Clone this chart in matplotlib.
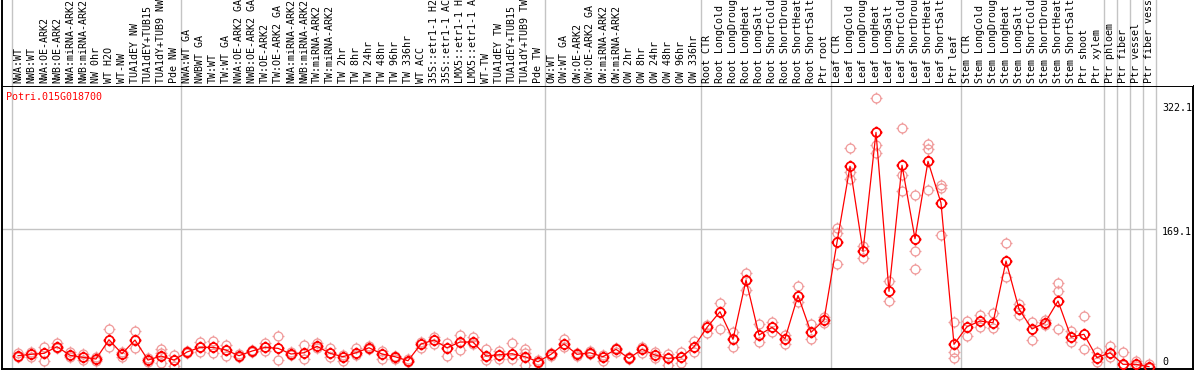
import matplotlib
matplotlib.use('Agg')
import matplotlib.pyplot as plt
import matplotlib.transforms as mtransforms
from matplotlib.path import Path
import numpy as np

# ---------------- data ----------------
gene = 'Potri.015G018700'

samples = [
    # group 1
    'NWA:WT', 'NWB:WT', 'NWA:OE-ARK2', 'NWB:OE-ARK2', 'NWA:miRNA-ARK2', 'NWB:miRNA-ARK2',
    'NW 0hr', 'WT H2O', 'WT-NW', 'TUA1dEY NW', 'TUA1dEY+TUB15', 'TUA1dY+TUB9 NW', 'Pde NW',
    # group 2
    'NWA:WT GA', 'NWBWT GA', 'TW:WT', 'TW:WT GA', 'NWA:OE-ARK2 GA', 'NWB:OE-ARK2 GA',
    'TW:OE-ARK2', 'TW:OE-ARK2 GA', 'NWA:miRNA-ARK2', 'NWB:miRNA-ARK2', 'TW:miRNA-ARK2',
    'TW:miRNA-ARK2', 'TW 2hr', 'TW 8hr', 'TW 24hr', 'TW 48hr', 'TW 96hr', 'TW 336hr',
    'WT ACC', '35S::etr1-1 H2', '35S::etr1-1 AC', 'LMX5::etr1-1 H', 'LMX5::etr1-1 A',
    'WT-TW', 'TUA1dEY TW', 'TUA1dEY+TUB15', 'TUA1dY+TUB9 TW', 'Pde TW',
    # group 3
    'OW:WT', 'OW:WT GA', 'OW:OE-ARK2', 'OW:OE-ARK2 GA', 'OW:miRNA-ARK2', 'OW:miRNA-ARK2',
    'OW 2hr', 'OW 8hr', 'OW 24hr', 'OW 48hr', 'OW 96hr', 'OW 336hr',
    # root
    'Root CTR', 'Root LongCold', 'Root LongDroug', 'Root LongHeat', 'Root LongSalt',
    'Root ShortCold', 'Root ShortDrou', 'Root ShortHeat', 'Root ShortSalt', 'Ptr root',
    # leaf
    'Leaf CTR', 'Leaf LongCold', 'Leaf LongDroug', 'Leaf LongHeat', 'Leaf LongSalt',
    'Leaf ShortCold', 'Leaf ShortDrou', 'Leaf ShortHeat', 'Leaf ShortSalt', 'Ptr leaf',
    # stem
    'Stem CTR', 'Stem LongCold', 'Stem LongDroug', 'Stem LongHeat', 'Stem LongSalt',
    'Stem ShortCold', 'Stem ShortDrou', 'Stem ShortHeat', 'Stem ShortSalt', 'Ptr shoot', 'Ptr xylem',
    # single tissues
    'Ptr phloem', 'Ptr fiber', 'Ptr vessel', 'Ptr fiber vess',
]
group_sizes = [13, 28, 12, 10, 10, 11, 1, 1, 1, 1]

means = [
    14.4, 16.1, 17.3, 25.4, 14.9, 12.4, 10.4, 33.9, 16.8, 33.5, 9.1, 14.0, 9.1,
    18.9, 24.6, 24.6, 21.3, 14.4, 20.1, 24.6, 23.4, 16.5, 18.0, 25.9, 17.3, 13.2, 18.0,
    24.1, 16.5, 13.2, 8.3, 28.7, 33.5, 24.1, 31.1, 31.1, 14.0, 15.6, 16.8, 13.2, 7.1,
    16.1, 28.7, 16.1, 18.0, 13.2, 22.2, 11.2, 22.2, 15.2, 11.2, 12.4, 25.4,
    49.0, 68.0, 34.4, 106.7, 39.6, 49.0, 35.1, 87.8, 42.9, 57.9,
    152.7, 245.4, 141.7, 286.8, 92.9, 246.6, 157.1, 251.5, 200.6, 28.3,
    49.8, 56.7, 54.6, 129.9, 71.3, 47.0, 54.6, 81.1, 37.2, 40.5, 12.0,
    18.0, 3.9, 3.9, 1.0,
]

replicates = [
    [17.3, 12.4], [18.5, 13.2], [24.6, 7.6], [30.2, 23.8], [19.3, 13.2], [16.1, 9.1],
    [12.4, 8.3], [46.6, 25.4], [18.9, 13.2], [44.5, 23.4], [11.2, 6.3], [22.6, 5.1, 18.0],
    [15.2, 1.8],
    [20.1, 17.7], [31.5, 18.5], [32.3, 17.3], [27.4, 14.0], [16.1, 13.2], [21.3, 18.5],
    [30.2, 20.5], [38.4, 9.1], [18.5, 15.2], [27.1, 10.4], [30.2, 23.4], [23.4, 12.4],
    [15.2, 8.3], [23.4, 15.2], [26.2, 22.2], [20.1, 10.4], [14.0, 10.4], [10.4, 6.3],
    [31.5, 23.4], [36.8, 28.7], [29.5, 14.4], [39.3, 21.3], [37.6, 28.3], [22.2, 9.1],
    [20.5, 10.4], [29.5, 10.4], [22.9, 3.0, 18.0], [9.1, 5.9],
    [17.3, 14.4], [34.8, 25.4], [18.0, 14.0], [20.1, 16.1], [15.2, 8.3], [24.1, 19.3],
    [13.2, 10.0], [25.4, 18.0], [19.3, 11.2], [16.1, 3.0], [19.3, 5.1], [32.7, 19.3],
    [51.8, 41.7], [79.0, 46.6], [43.7, 24.6], [114.9, 94.5], [53.0, 31.5], [55.9, 43.7],
    [39.6, 28.7], [99.4, 80.2], [52.7, 34.4], [62.0, 53.9],
    [169.8, 163.7, 125.9], [267.3, 238.8, 229.5], [148.5, 133.2], [328.3, 271.3, 261.2],
    [105.1, 80.7], [291.7, 234.8, 215.2], [210.0, 141.7, 119.8], [272.2, 266.1, 216.5],
    [222.2, 218.5, 161.6], [55.1, 19.3, 11.2],
    [57.1, 38.8], [64.0, 49.0], [66.8, 47.8], [151.8, 110.7], [77.4, 64.0], [55.1, 33.5],
    [57.9, 51.8], [103.4, 93.3, 47.0], [44.9, 30.7], [62.8, 22.2], [18.5, 7.1],
    [26.2, 13.2], [18.5, 3.0], [8.3, 1.8], [3.9, 0.0],
]

y_ticks = [0, 169.1, 322.1]
y_tick_labels = ['0', '169.1', '322.1']

# ---------------- style ----------------
W, H, DPI = 1194, 370, 100
RED = '#ff0000'
PINK = '#f09a9a'
GRAY = '#c4c4c4'
FONT = 'DejaVu Sans Mono'
FS = 7.2

# circle (as a polygon) with four little ticks outside
_t = np.linspace(0, 2 * np.pi, 33)
_tick = 1.35
marker_path = Path.make_compound_path(
    Path(np.column_stack([np.cos(_t), np.sin(_t)])),
    Path([(0, 1), (0, _tick)]), Path([(0, -1), (0, -_tick)]),
    Path([(1, 0), (_tick, 0)]), Path([(-1, 0), (-_tick, 0)]),
)
MS = 8.6

fig = plt.figure(figsize=(W / DPI, H / DPI), dpi=DPI)

# x position of sample i in pixels = 18 + 13*i, axes spans px 2..1193
xlim = ((2 - 18) / 13, (1193 - 18) / 13)
ax = fig.add_axes([2 / W, 1 / H, (1193 - 2) / W, (369 - 86) / H])
hdr = fig.add_axes([2 / W, (370 - 86) / H, (1193 - 2) / W, 86 / H])

x = np.arange(len(samples))
seps = np.cumsum([0] + group_sizes) - 0.5

# ---- main panel ----
ax.set_xlim(*xlim)
ax.set_ylim(-1.8, 343.3)
for s in seps:
    ax.axvline(s, color=GRAY, lw=1.0, zorder=1)
ax.hlines(169.1, xlim[0], seps[-1], color=GRAY, lw=1.0, zorder=1)

for i, reps in enumerate(replicates):
    ax.plot([x[i]] * len(reps), reps, linestyle='none', marker=marker_path,
            markersize=MS, markeredgecolor=PINK, markerfacecolor='none',
            markeredgewidth=0.9, zorder=2)
ax.plot(x, means, color=RED, lw=0.9, zorder=3)
ax.plot(x, means, linestyle='none', marker=marker_path, markersize=MS,
        markeredgecolor=RED, markerfacecolor='none', markeredgewidth=1.25, zorder=4)

ax.set_xticks([])
ax.set_yticks([])
for sp in ax.spines.values():
    sp.set_color('black')
    sp.set_linewidth(1.4)

# right-hand value labels
lab_x = (1162 - 2) / (1193 - 2)
offsets = {'0': 5.5, '169.1': -3.5, '322.1': -4.5}
for v, t in zip(y_ticks, y_tick_labels):
    tr = mtransforms.offset_copy(ax.get_yaxis_transform(), fig=fig,
                                 y=offsets[t], units='dots')
    ax.text(lab_x, v, t, transform=tr, ha='left', va='center',
            family=FONT, fontsize=FS, color='black')

ax.text(-0.95, 1, gene, transform=mtransforms.offset_copy(
            ax.get_xaxis_transform(), fig=fig, y=-11, units='dots'),
        ha='left', va='center', family=FONT, fontsize=FS, color=RED, zorder=6)

# ---- header with sample names ----
hdr.set_xlim(*xlim)
hdr.set_ylim(0, 1)
for s in seps:
    hdr.axvline(s, color=GRAY, lw=1.0)
for i, name in enumerate(samples):
    hdr.text(x[i], 3 / 86, name, rotation=90, ha='center', va='bottom',
             family=FONT, fontsize=FS, color='black', clip_on=False)
hdr.set_xticks([])
hdr.set_yticks([])
for k, sp in hdr.spines.items():
    sp.set_visible(k == 'left')
hdr.spines['left'].set_linewidth(1.4)

fig.savefig('out.png', dpi=DPI)
